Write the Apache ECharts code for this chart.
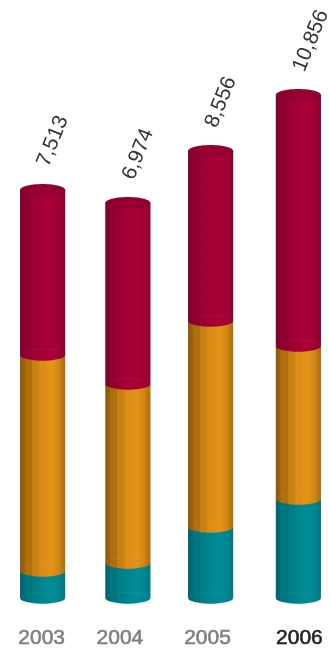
<!DOCTYPE html>
<html>
<head>
<meta charset="utf-8">
<style>html,body{margin:0;padding:0;background:#fff}#c{width:330px;height:651px}</style>
<script src="https://cdn.jsdelivr.net/npm/echarts@6/dist/echarts.min.js"></script>
</head>
<body>
<div id="c"></div>
<script>
// Values: segment heights on a common scale.
const years = ['2003', '2004', '2005', '2006'];
const totalLabels = [7513, 6974, 8556, 10856];
const teal = [540, 700, 1420, 1980];
const orange = [4320, 3580, 4120, 3060];
const red = [3300, 3620, 3400, 5020];

// Layout and style, separate from the data
const barNudge = [0, 0, -2.5, 0];
const labelShift = [1, 8, 5.6, -1];
const stops = [0, .1, .11, .26, .27, .42, .43, .58, .59, .74, .75, .88, .89, 1];
const ramp = {
  teal: ['#00646e','#006c76','#007680','#00767f','#007d88','#007f8a','#00858f','#008790','#008a94','#008c96','#008a94','#00868f','#00828c','#007a84'],
  orange: ['#8f5a0c','#9c620c','#ae6e0e','#b0700f','#c57f12','#c98213','#d88b16','#dc8e17','#e09118','#e29219','#dc8e17','#d08614','#c37e12','#ad6e0f'],
  red: ['#7f002b','#87002d','#900030','#920030','#9c0033','#9e0034','#a40036','#a60036','#a90038','#a90038','#a60036','#a00034','#9a0033','#8e002f']
};
function grad(name) {
  return {type:'linear', x:0, y:0, x2:1, y2:0,
    colorStops: stops.map((o,i)=>({offset:o, color:ramp[name][i]}))};
}
const RY = 5.7;
function arc(cx, cy, rx, ry, a0, a1, n) {
  const pts = [];
  for (let i = 0; i <= n; i++) {
    const a = a0 + (a1 - a0) * i / n;
    pts.push([cx + rx * Math.cos(a), cy + ry * Math.sin(a)]);
  }
  return pts;
}
function segmentSeries(name, values, belowArrays, isTop) {
  return {
    type: 'custom', name, data: values.map((v,i)=>[i,v]),
    encode: {x:0, y:1}, clip:false, silent:true,
    renderItem(params, api) {
      const i = api.value(0);
      const base = belowArrays.reduce((s,a)=>s+a[i],0);
      const band = api.size([1,0])[0];
      const w = band * 0.53;
      const c0 = api.coord([i, base]);
      const c1 = api.coord([i, base + api.value(1)]);
      const cx = c0[0] + barNudge[i], yb = c0[1], yt = c1[1], rx = w/2;
      const body = arc(cx, yb, rx, RY, 0, Math.PI, 40);
      body.push([cx-rx, yt], [cx+rx, yt]);
      const children = [
        {type:'polygon', shape:{points:body}, style:{fill:grad(name)}},
        {type:'polyline', shape:{points:arc(cx, yb, rx-1, RY, Math.PI, 2*Math.PI, 40)},
         style:{fill:null, stroke:'rgba(255,255,255,0.05)', lineWidth:1}}
      ];
      if (isTop) {
        children.push({type:'polygon', shape:{points:arc(cx, yt, rx, RY+.3, 0, 2*Math.PI, 60)},
          style:{fill:{type:'linear',x:0,y:0,x2:1,y2:0,colorStops:[
            {offset:0,color:'#8c002e'},{offset:.6,color:'#990032'},{offset:1,color:'#90002f'}]}}});
        children.push({type:'text', x:cx+0.5, y:yt-24.5, rotation:68*Math.PI/180,
          style:{text:totalLabels[i].toLocaleString('en-US'), fill:'#333333',
            font:'21px "Liberation Sans", Arial, sans-serif', align:'left', verticalAlign:'middle'}});
      }
      return {type:'group', children};
    }
  };
}
const chart = echarts.init(document.getElementById('c'), null, {renderer:'canvas'});
chart.setOption({
  animation:false,
  backgroundColor:'#ffffff',
  grid:{left:0, top:0, width:341, height:598, containLabel:false, outerBoundsMode:'none'},
  xAxis:{
    type:'category',
    data: years.map((y,i)=>({value:y, textStyle:{
      color: i===3 ? '#231f20' : '#808080',
      textBorderColor: i===3 ? '#231f20' : '#808080',
      textBorderWidth: 0.6,
      padding: labelShift[i] > 0 ? [0, 2*labelShift[i], 0, 0] : [0, 0, 0, -2*labelShift[i]]
    }})),
    axisLine:{show:false}, axisTick:{show:false},
    axisLabel:{interval:0, margin:30, fontSize:21, fontFamily:'"Liberation Sans", Arial, sans-serif', hideOverlap:false}
  },
  yAxis:{type:'value', min:0, max:11960, show:false, splitLine:{show:false}},
  series:[
    segmentSeries('teal', teal, [], false),
    segmentSeries('orange', orange, [teal], false),
    segmentSeries('red', red, [teal, orange], true)
  ]
});
</script>
</body>
</html>
